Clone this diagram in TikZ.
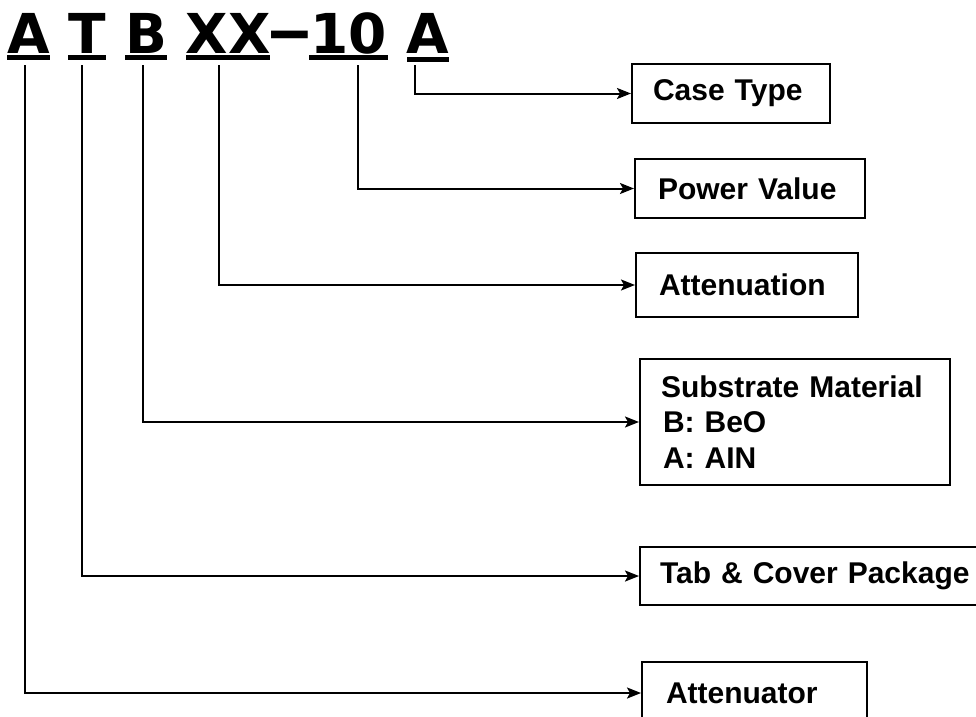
\documentclass[tikz,border=0pt]{standalone}
\usepackage{fontspec}
\setmainfont{Liberation Sans}
\newfontfamily\codefont{DejaVu Sans}
\usetikzlibrary{arrows.meta}
\tikzset{
  codeletter/.style={anchor=base, inner sep=0pt, font=\codefont\bfseries\fontsize{55}{60}\selectfont},
  uline/.style={fill=black, draw=none},
  conn/.style={line width=2pt, -{Stealth[length=14pt,width=11pt,inset=3pt]}},
  infobox/.style={draw, line width=2pt, anchor=north west, inner ysep=0pt, align=left,
    font=\bfseries\fontsize{30}{35.5}\selectfont}
}
\begin{document}
\begin{tikzpicture}[x=1pt,y=-1pt]
\useasboundingbox (0,0) rectangle (976,716);
\clip (0,0) rectangle (976,716);
% code letters
\node[codeletter] (lA) at (28.5,53) {A};
\node[codeletter] (lT) at (87,53) {T};
\node[codeletter] (lB) at (146,53) {B};
\node[codeletter] (lXX) at (228,53) {XX};
\node[codeletter] (ldash) at (290,51) {\scalebox{1.7}[1.1]{–}};
\node[codeletter] (l10) at (348.5,53) {10};
\node[codeletter] (lA2) at (428,53) {A};
% underlines
\fill[uline] (7,55) rectangle (50,60);
\fill[uline] (68,55) rectangle (106,60);
\fill[uline] (125,55) rectangle (167,60);
\fill[uline] (186,55) rectangle (270,60);
\fill[uline] (309,55) rectangle (388,60);
\fill[uline] (407,57) rectangle (449,62);
% connector origins
\coordinate (cA) at (25,65);
\coordinate (cT) at (82,65);
\coordinate (cB) at (143,65);
\coordinate (cXX) at (219,65);
\coordinate (c10) at (358,65);
\coordinate (cA2) at (415,65);
% boxes
\node[infobox, minimum height=59pt, text width=156pt, inner xsep=21pt] (case) at (631,63) {Case Type};
\node[infobox, minimum height=59pt, text width=184pt, inner xsep=23pt] (power) at (634,158) {Power Value};
\node[infobox, minimum height=64pt, text width=176pt, inner xsep=23pt] (atten) at (635,252) {Attenuation};
\node[infobox, minimum height=126pt, text width=268pt, inner xsep=21pt] (subst) at (639,358) {Substrate Material\\\hspace{2pt}B: BeO\\\hspace{2pt}A: AIN};
\node[infobox, minimum height=58pt, text width=320pt, inner xsep=20pt] (tab) at (639,546) {Tab \& Cover Package};
\node[infobox, minimum height=62pt, text width=177pt, inner xsep=24pt] (attnr) at (641,661) {Attenuator};
% connectors
\draw[conn] (cA2) |- (case.west);
\draw[conn] (c10) |- (power.west);
\draw[conn] (cXX) |- (atten.west);
\draw[conn] (cB) |- (subst.west);
\draw[conn] (cT) |- (tab.west);
\draw[conn] (cA) |- (attnr.west);
\end{tikzpicture}
\end{document}
